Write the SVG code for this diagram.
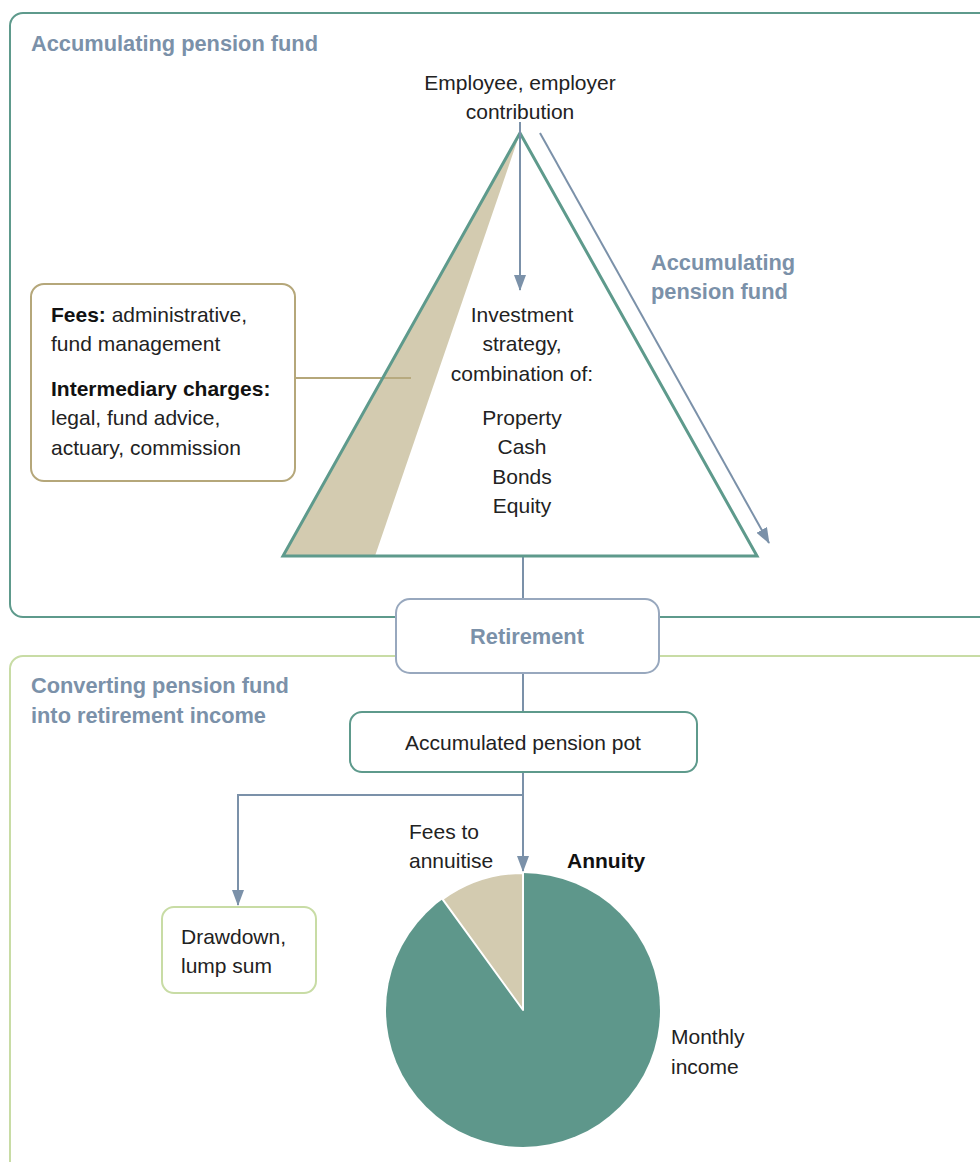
<svg xmlns="http://www.w3.org/2000/svg" width="980" height="1162" viewBox="0 0 980 1162">
<style>
text{font-family:"Liberation Sans",Arial,sans-serif;font-size:21px;fill:#222}
.hd{font-weight:bold;fill:#7b91a9;font-size:21.8px}
.b{font-weight:bold;fill:#111}
.c{text-anchor:middle}
.conn{fill:none;stroke:#7b91a9;stroke-width:2}
</style>
<defs>
<marker id="ah2" markerWidth="16" markerHeight="12" refX="15" refY="6" orient="auto" markerUnits="userSpaceOnUse" viewBox="0 0 16 12">
<path d="M0,0 L16,6 L0,12 Z" fill="#7b91a9"/>
</marker>
</defs>
<rect width="980" height="1162" fill="#fff"/>
<g id="panel-accumulating">
<rect x="10" y="13" width="1000" height="604" rx="13" fill="none" stroke="#5e9a8c" stroke-width="2"/>
<text x="31" y="51" class="hd">Accumulating pension fund</text>
</g>
<g id="panel-converting">
<rect x="10" y="656" width="1000" height="540" rx="13" fill="none" stroke="#c8dca5" stroke-width="2"/>
<text x="31" y="693" class="hd">Converting pension fund</text>
<text x="31" y="723" class="hd">into retirement income</text>
</g>
<g id="connectors">
<line x1="523" y1="557" x2="523" y2="599" class="conn"/>
<line x1="523" y1="673" x2="523" y2="712" class="conn"/>
<path d="M523,772 V795 H238 V905" class="conn" marker-end="url(#ah2)"/>
<line x1="523" y1="795" x2="523" y2="871" class="conn" marker-end="url(#ah2)"/>
<line x1="295" y1="378" x2="411" y2="378" stroke="#b5a77a" stroke-width="2"/>
</g>
<g id="pyramid">
<polygon points="520,133 283,556 757,556" fill="#fff"/>
<polygon points="520,133 283,556 375,556" fill="#d3cbb0"/>
<line x1="295" y1="378" x2="411" y2="378" stroke="#b5a77a" stroke-width="2" opacity="0.9"/>
<polygon points="520,133 283,556 757,556" fill="none" stroke="#5e9a8c" stroke-width="3" stroke-linejoin="miter"/>
<line x1="520" y1="122" x2="520" y2="290" class="conn" marker-end="url(#ah2)"/>
<line x1="540" y1="133" x2="769" y2="543" class="conn" marker-end="url(#ah2)"/>
<text x="520" y="90" class="c">Employee, employer</text>
<text x="520" y="119" class="c">contribution</text>
<text x="522" y="322" class="c">Investment</text>
<text x="522" y="351" class="c">strategy,</text>
<text x="522" y="381" class="c">combination of:</text>
<text x="522" y="425" class="c">Property</text>
<text x="522" y="454" class="c">Cash</text>
<text x="522" y="484" class="c">Bonds</text>
<text x="522" y="513" class="c">Equity</text>
<text x="651" y="270" class="hd">Accumulating</text>
<text x="651" y="299" class="hd">pension fund</text>
</g>
<g id="fees">
<rect x="31" y="284" width="264" height="197" rx="13" fill="#fff" stroke="#b5a77a" stroke-width="2"/>
<text x="51" y="322"><tspan class="b">Fees:</tspan> administrative,</text>
<text x="51" y="351">fund management</text>
<text x="51" y="396" class="b">Intermediary charges:</text>
<text x="51" y="425">legal, fund advice,</text>
<text x="51" y="455">actuary, commission</text>
</g>
<g id="retirement">
<rect x="396" y="599" width="263" height="74" rx="14" fill="#fff" stroke="#98a8be" stroke-width="2"/>
<text x="527" y="644" class="hd c">Retirement</text>
</g>
<g id="pot">
<rect x="350" y="712" width="347" height="60" rx="12" fill="#fff" stroke="#5e9a8c" stroke-width="2"/>
<text x="523" y="750" class="c">Accumulated pension pot</text>
</g>
<g id="drawdown">
<rect x="162" y="907" width="154" height="86" rx="12" fill="#fff" stroke="#c8dca5" stroke-width="2"/>
<text x="181" y="944">Drawdown,</text>
<text x="181" y="973">lump sum</text>
</g>
<g id="annuity">
<circle cx="523" cy="1010" r="137" fill="#5e978b"/>
<path d="M523,1010 L523,873 A137,137 0 0 0 442.5,899.2 Z" fill="#d3cbb0" stroke="#fff" stroke-width="2" stroke-linejoin="round"/>
<text x="409" y="839">Fees to</text>
<text x="409" y="868">annuitise</text>
<text x="567" y="868" class="b">Annuity</text>
<text x="671" y="1044">Monthly</text>
<text x="671" y="1074">income</text>
</g>
</svg>
